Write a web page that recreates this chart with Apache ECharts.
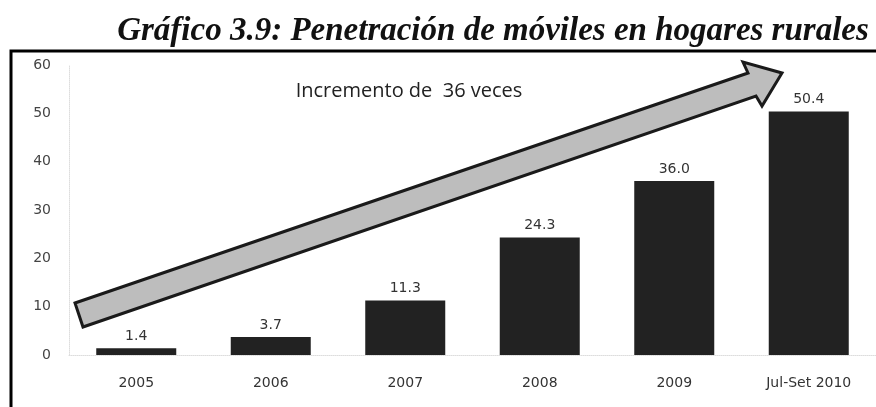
<!DOCTYPE html>
<html>
<head>
<meta charset="utf-8">
<script src="https://cdn.jsdelivr.net/npm/echarts@6/dist/echarts.min.js"></script>
<style>
html,body{margin:0;padding:0;background:#fff;}
#main{width:876px;height:407px;}
</style>
</head>
<body>
<div id="main"></div>
<script>
const categories = ['2005', '2006', '2007', '2008', '2009', 'Jul-Set 2010'];
const values = [1.4, 3.7, 11.3, 24.3, 36.0, 50.4];
const yTicks = { min: 0, max: 60, interval: 10 };
const titleText = 'Gráfico 3.9: Penetración de móviles en hogares rurales';
const arrowText = 'Incremento de  36 veces';

const chart = echarts.init(document.getElementById('main'));
const arrowPts = [[75,303],[748,73],[743,62],[782,73],[762,106],[756,96],[83,327]];
chart.setOption({
  animation: false,
  backgroundColor: '#fff',
  title: {
    text: titleText,
    left: 488, top: 10, textAlign: 'center',
    textStyle: { fontFamily: 'Liberation Serif', fontStyle: 'italic', fontWeight: 'bold', fontSize: 33, color: '#111' }
  },
  grid: { left: 69, right: -9, top: 65, bottom: 52 },
  xAxis: {
    type: 'category', data: categories,
    axisLine: { show: true, lineStyle: { color: '#ddd', type: 'dotted' } },
    axisTick: { show: false },
    axisLabel: { margin: 21, fontFamily: 'DejaVu Sans', fontSize: 14, color: '#333' }
  },
  yAxis: {
    type: 'value', min: yTicks.min, max: yTicks.max, interval: yTicks.interval,
    axisLine: { show: true, lineStyle: { color: '#ddd', type: 'dotted' } },
    axisTick: { show: false },
    splitLine: { show: false },
    axisLabel: { margin: 18, fontFamily: 'DejaVu Sans', fontSize: 14, color: '#444' }
  },
  series: [{
    type: 'bar', data: values, barWidth: 80,
    itemStyle: { color: '#222' },
    label: { show: true, position: 'top', distance: 5, fontFamily: 'DejaVu Sans', fontSize: 14, color: '#333',
      formatter: p => p.value.toFixed(1) }
  }],
  graphic: [
    { type: 'rect', shape: { x: 11, y: 51, width: 900, height: 400 }, style: { fill: 'none', stroke: '#000', lineWidth: 3 }, z: 10 },
    { type: 'polygon', shape: { points: arrowPts }, style: { fill: '#bdbdbd', stroke: '#1a1a1a', lineWidth: 3, lineJoin: 'miter' }, z: 20 },
    { type: 'text', x: 409, y: 91, style: { text: arrowText, font: '20px "Open Sans"', fill: '#222', textAlign: 'center', textVerticalAlign: 'middle' }, z: 20 }
  ]
});
</script>
</body>
</html>
